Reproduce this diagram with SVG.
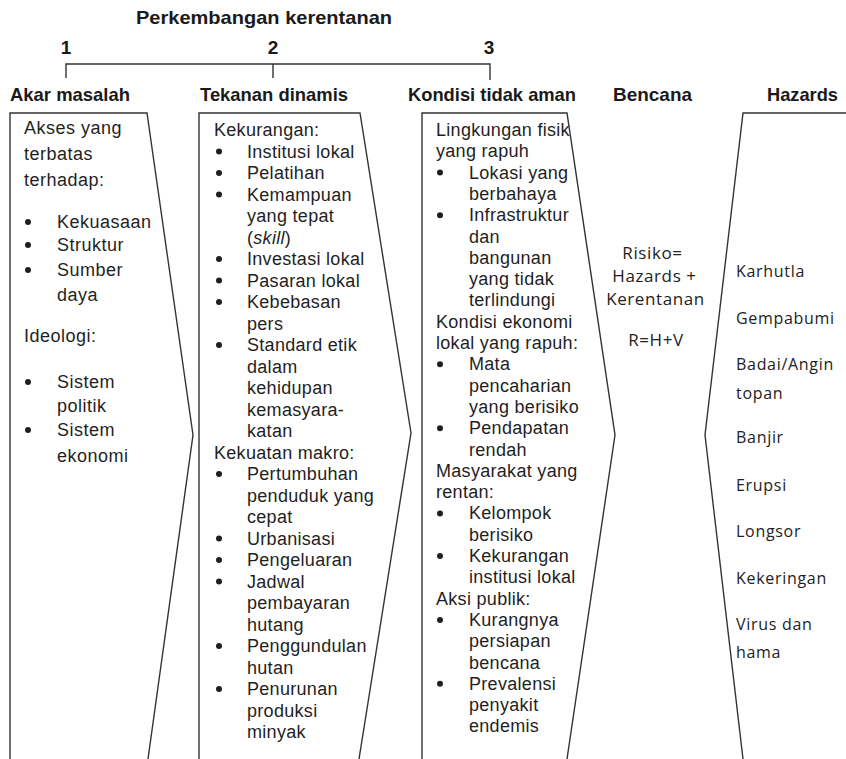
<svg xmlns="http://www.w3.org/2000/svg" width="846" height="759" viewBox="0 0 846 759">
<style>
.bg{fill:#ffffff}
.hd{font-family:"Liberation Sans Narrow","Liberation Sans",Arial,sans-serif;font-weight:bold;font-size:19px;fill:#1a1a1a}
.t{font-family:"Liberation Sans",Arial,sans-serif;font-size:18px;fill:#1f1f1f;letter-spacing:0.3px}
.t1{font-family:"Liberation Sans",Arial,sans-serif;font-size:18px;fill:#1f1f1f;letter-spacing:0.5px}
.c{font-family:"Open Sans","Noto Sans",sans-serif;font-size:16px;fill:#222;letter-spacing:0.7px}
.cb{font-family:"Open Sans","Noto Sans",sans-serif;font-size:17px;fill:#222;letter-spacing:0.6px}
.shape{fill:none;stroke:#333;stroke-width:1.4;stroke-linejoin:miter}
.bul{fill:#1f1f1f}
</style>
<rect class="bg" x="0" y="0" width="846" height="759"/>

<g id="header">
  <text class="hd" x="136" y="24" font-size="20" textLength="256" lengthAdjust="spacingAndGlyphs">Perkembangan kerentanan</text>
  <text class="hd" x="66" y="54" text-anchor="middle">1</text>
  <text class="hd" x="273" y="54" text-anchor="middle">2</text>
  <text class="hd" x="489" y="54" text-anchor="middle">3</text>
</g>

<g id="connectors">
  <path class="shape" d="M66,78 V64 H490 V80 M273,64 V78"/>
</g>

<g id="akar-masalah">
  <text class="hd" x="10" y="101" textLength="120" lengthAdjust="spacingAndGlyphs">Akar masalah</text>
  <path class="shape" d="M10,759 L10,113 L147,113 L193,435 L148,759"/>
  <text class="t1">
    <tspan x="24" y="134">Akses yang</tspan>
    <tspan x="24" y="160">terbatas</tspan>
    <tspan x="24" y="186">terhadap:</tspan>
    <tspan x="57" y="228">Kekuasaan</tspan>
    <tspan x="57" y="251">Struktur</tspan>
    <tspan x="57" y="276">Sumber</tspan>
    <tspan x="57" y="301">daya</tspan>
    <tspan x="24" y="342">Ideologi:</tspan>
    <tspan x="57" y="388">Sistem</tspan>
    <tspan x="57" y="412">politik</tspan>
    <tspan x="57" y="436">Sistem</tspan>
    <tspan x="57" y="462">ekonomi</tspan>
  </text>
  <g class="bul">
    <circle cx="28" cy="222" r="3"/>
    <circle cx="28" cy="245" r="3"/>
    <circle cx="28" cy="270" r="3"/>
    <circle cx="28" cy="382" r="3"/>
    <circle cx="28" cy="430" r="3"/>
  </g>
</g>

<g id="tekanan-dinamis">
  <text class="hd" x="200" y="101" textLength="148" lengthAdjust="spacingAndGlyphs">Tekanan dinamis</text>
  <path class="shape" d="M199,759 L199,113 L360,113 L411,433 L359,759"/>
  <text class="t">
    <tspan x="214" y="136">Kekurangan:</tspan>
    <tspan x="247" y="157.5">Institusi lokal</tspan>
    <tspan x="247" y="179">Pelatihan</tspan>
    <tspan x="247" y="200.5">Kemampuan</tspan>
    <tspan x="247" y="222">yang tepat</tspan>
    <tspan x="247" y="243.5">(<tspan font-style="italic">skill</tspan>)</tspan>
    <tspan x="247" y="265">Investasi lokal</tspan>
    <tspan x="247" y="286.5">Pasaran lokal</tspan>
    <tspan x="247" y="308">Kebebasan</tspan>
    <tspan x="247" y="329.5">pers</tspan>
    <tspan x="247" y="351">Standard etik</tspan>
    <tspan x="247" y="372.5">dalam</tspan>
    <tspan x="247" y="394">kehidupan</tspan>
    <tspan x="247" y="415.5">kemasyara-</tspan>
    <tspan x="247" y="437">katan</tspan>
    <tspan x="214" y="458.5">Kekuatan makro:</tspan>
    <tspan x="247" y="480">Pertumbuhan</tspan>
    <tspan x="247" y="501.5">penduduk yang</tspan>
    <tspan x="247" y="523">cepat</tspan>
    <tspan x="247" y="544.5">Urbanisasi</tspan>
    <tspan x="247" y="566">Pengeluaran</tspan>
    <tspan x="247" y="587.5">Jadwal</tspan>
    <tspan x="247" y="609">pembayaran</tspan>
    <tspan x="247" y="630.5">hutang</tspan>
    <tspan x="247" y="652">Penggundulan</tspan>
    <tspan x="247" y="673.5">hutan</tspan>
    <tspan x="247" y="695">Penurunan</tspan>
    <tspan x="247" y="716.5">produksi</tspan>
    <tspan x="247" y="738">minyak</tspan>
  </text>
  <g class="bul">
    <circle cx="219" cy="151.5" r="3"/>
    <circle cx="219" cy="173" r="3"/>
    <circle cx="219" cy="194.5" r="3"/>
    <circle cx="219" cy="259" r="3"/>
    <circle cx="219" cy="280.5" r="3"/>
    <circle cx="219" cy="302" r="3"/>
    <circle cx="219" cy="345" r="3"/>
    <circle cx="219" cy="474" r="3"/>
    <circle cx="219" cy="538.5" r="3"/>
    <circle cx="219" cy="560" r="3"/>
    <circle cx="219" cy="581.5" r="3"/>
    <circle cx="219" cy="646" r="3"/>
    <circle cx="219" cy="689" r="3"/>
  </g>
</g>

<g id="kondisi-tidak-aman">
  <text class="hd" x="408" y="101" textLength="168" lengthAdjust="spacingAndGlyphs">Kondisi tidak aman</text>
  <path class="shape" d="M422,759 L422,113 L567,113 L615,435 L567,759"/>
  <text class="t">
    <tspan x="436" y="136">Lingkungan fisik</tspan>
    <tspan x="436" y="157.3">yang rapuh</tspan>
    <tspan x="469" y="178.6">Lokasi yang</tspan>
    <tspan x="469" y="199.9">berbahaya</tspan>
    <tspan x="469" y="221.2">Infrastruktur</tspan>
    <tspan x="469" y="242.5">dan</tspan>
    <tspan x="469" y="263.8">bangunan</tspan>
    <tspan x="469" y="285.1">yang tidak</tspan>
    <tspan x="469" y="306.4">terlindungi</tspan>
    <tspan x="436" y="327.7">Kondisi ekonomi</tspan>
    <tspan x="436" y="349">lokal yang rapuh:</tspan>
    <tspan x="469" y="370.3">Mata</tspan>
    <tspan x="469" y="391.6">pencaharian</tspan>
    <tspan x="469" y="412.9">yang berisiko</tspan>
    <tspan x="469" y="434.2">Pendapatan</tspan>
    <tspan x="469" y="455.5">rendah</tspan>
    <tspan x="436" y="476.8">Masyarakat yang</tspan>
    <tspan x="436" y="498.1">rentan:</tspan>
    <tspan x="469" y="519.4">Kelompok</tspan>
    <tspan x="469" y="540.7">berisiko</tspan>
    <tspan x="469" y="562">Kekurangan</tspan>
    <tspan x="469" y="583.3">institusi lokal</tspan>
    <tspan x="436" y="604.6">Aksi publik:</tspan>
    <tspan x="469" y="625.9">Kurangnya</tspan>
    <tspan x="469" y="647.2">persiapan</tspan>
    <tspan x="469" y="668.5">bencana</tspan>
    <tspan x="469" y="689.8">Prevalensi</tspan>
    <tspan x="469" y="711.1">penyakit</tspan>
    <tspan x="469" y="732.4">endemis</tspan>
  </text>
  <g class="bul">
    <circle cx="440" cy="172.6" r="3"/>
    <circle cx="440" cy="215.2" r="3"/>
    <circle cx="440" cy="364.3" r="3"/>
    <circle cx="440" cy="428.2" r="3"/>
    <circle cx="440" cy="513.4" r="3"/>
    <circle cx="440" cy="556" r="3"/>
    <circle cx="440" cy="619.9" r="3"/>
    <circle cx="440" cy="683.8" r="3"/>
  </g>
</g>

<g id="bencana">
  <text class="hd" x="613" y="101" textLength="79" lengthAdjust="spacingAndGlyphs">Bencana</text>
  <text class="cb" text-anchor="middle">
    <tspan x="655" y="259">Risiko=</tspan>
    <tspan x="657" y="282">Hazards +</tspan>
    <tspan x="658" y="305">Kerentanan</tspan>
    <tspan x="656" y="346">R=H+V</tspan>
  </text>
</g>

<g id="hazards">
  <text class="hd" x="767" y="101" textLength="71" lengthAdjust="spacingAndGlyphs">Hazards</text>
  <path class="shape" d="M846,113 L743,113 L705,435 L743,759"/>
  <text class="c">
    <tspan x="736" y="277">Karhutla</tspan>
    <tspan x="736" y="324">Gempabumi</tspan>
    <tspan x="736" y="370">Badai/Angin</tspan>
    <tspan x="736" y="399">topan</tspan>
    <tspan x="736" y="443">Banjir</tspan>
    <tspan x="736" y="491">Erupsi</tspan>
    <tspan x="736" y="537">Longsor</tspan>
    <tspan x="736" y="584">Kekeringan</tspan>
    <tspan x="736" y="630">Virus dan</tspan>
    <tspan x="736" y="658">hama</tspan>
  </text>
</g>
</svg>
